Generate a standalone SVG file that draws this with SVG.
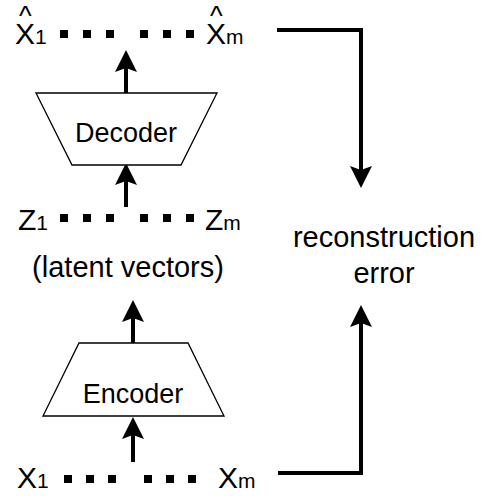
<svg xmlns="http://www.w3.org/2000/svg" width="483" height="496" viewBox="0 0 483 496">
  <style>
    text { font-family: "Liberation Sans", Arial, Helvetica, sans-serif; fill: #000; }
    .sym { font-size: 30px; }
    .sub { font-size: 21px; }
    .hat { font-size: 27px; }
    .lbl { font-size: 27px; text-anchor: middle; }
    .big { font-size: 29px; text-anchor: middle; }
    .dot { fill: #000; }
    .shape { fill: #fff; stroke: #000; stroke-width: 1.3; }
    .edge { fill: none; stroke: #000; stroke-width: 4; marker-end: url(#head); }
  </style>
  <defs>
    <marker id="head" viewBox="0 0 22 22" markerWidth="22" markerHeight="22" markerUnits="userSpaceOnUse" refX="4" refY="11" orient="auto">
      <path d="M0,0 L22,11 L0,22 L4,11 Z" fill="#000"/>
    </marker>
  </defs>
  <rect width="483" height="496" fill="#fff"/>

  <!-- connectors -->
  <g id="connectors">
    <line class="edge" x1="126" y1="93" x2="126" y2="68"/>
    <line class="edge" x1="126" y1="207" x2="126" y2="181"/>
    <line class="edge" x1="133" y1="343" x2="133" y2="318"/>
    <line class="edge" x1="133" y1="462" x2="133" y2="435"/>
    <path class="edge" d="M277,30 H361 V170"/>
    <path class="edge" d="M278,473 H361 V323"/>
  </g>

  <!-- reconstructed outputs: X-hat symbols with the hat set above the letter -->
  <g id="outputs">
    <text class="sym" x="15" y="44">X<tspan class="hat" x="19" y="25">^</tspan><tspan class="sub" x="35" y="44">1</tspan></text>
    <rect class="dot" x="60" y="30" width="8" height="8"/>
    <rect class="dot" x="83" y="30" width="8" height="8"/>
    <rect class="dot" x="106" y="30" width="8" height="8"/>
    <rect class="dot" x="140" y="30" width="8" height="8"/>
    <rect class="dot" x="163" y="30" width="8" height="8"/>
    <rect class="dot" x="186" y="30" width="8" height="8"/>
    <text class="sym" x="206" y="44">X<tspan class="hat" x="210" y="25">^</tspan><tspan class="sub" x="226" y="44">m</tspan></text>
  </g>

  <!-- decoder -->
  <g id="decoder">
    <polygon class="shape" points="36,93 217,93 181,165 72,165"/>
    <text class="lbl" x="126" y="142">Decoder</text>
  </g>

  <!-- latent vectors -->
  <g id="latent">
    <text class="sym" x="18" y="230">Z<tspan class="sub">1</tspan></text>
    <rect class="dot" x="60" y="214" width="8" height="8"/>
    <rect class="dot" x="83" y="214" width="8" height="8"/>
    <rect class="dot" x="106" y="214" width="8" height="8"/>
    <rect class="dot" x="140" y="214" width="8" height="8"/>
    <rect class="dot" x="163" y="214" width="8" height="8"/>
    <rect class="dot" x="186" y="214" width="8" height="8"/>
    <text class="sym" x="205" y="230">Z<tspan class="sub">m</tspan></text>
    <text class="big" x="128" y="277">(latent vectors)</text>
  </g>

  <!-- encoder -->
  <g id="encoder">
    <polygon class="shape" points="79,343 188,343 224,416 43,416"/>
    <text class="lbl" x="133" y="403">Encoder</text>
  </g>

  <!-- inputs -->
  <g id="inputs">
    <text class="sym" x="17" y="488">X<tspan class="sub">1</tspan></text>
    <rect class="dot" x="64" y="475" width="8" height="8"/>
    <rect class="dot" x="86" y="475" width="8" height="8"/>
    <rect class="dot" x="108" y="475" width="8" height="8"/>
    <rect class="dot" x="144" y="475" width="8" height="8"/>
    <rect class="dot" x="166" y="475" width="8" height="8"/>
    <rect class="dot" x="188" y="475" width="8" height="8"/>
    <text class="sym" x="218" y="488">X<tspan class="sub">m</tspan></text>
  </g>

  <!-- reconstruction error -->
  <g id="error">
    <text class="big" x="384" y="247">reconstruction</text>
    <text class="big" x="384" y="283">error</text>
  </g>
</svg>
